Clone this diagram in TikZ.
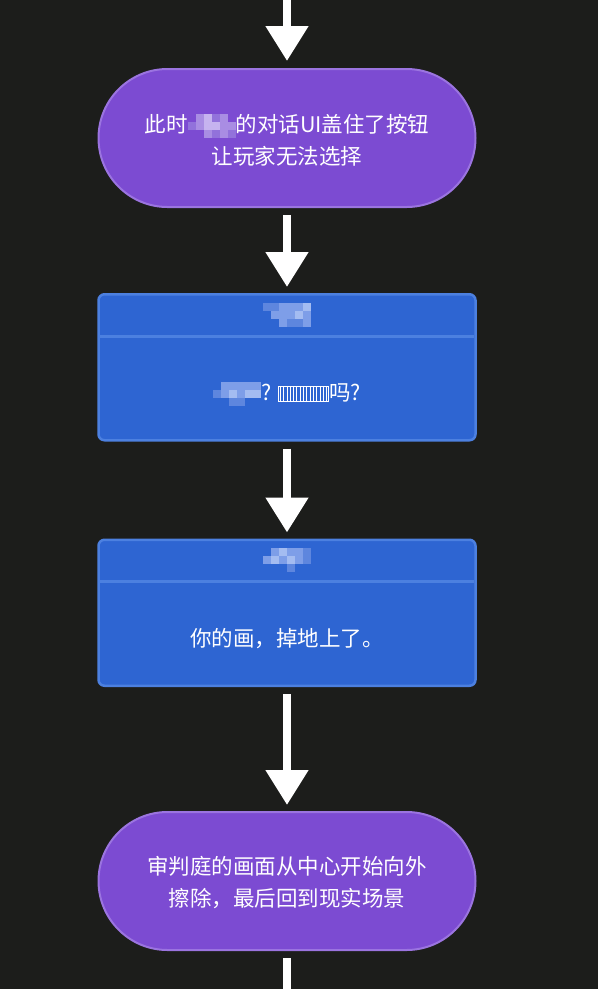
\documentclass[tikz,border=0pt]{standalone}
\usepackage{fontspec}
\setmainfont{Noto Sans CJK SC}
\usetikzlibrary{arrows.meta,positioning}
\definecolor{bgdark}{HTML}{1C1D1B}
\definecolor{pillfill}{HTML}{7C4BD2}
\definecolor{pilledge}{HTML}{9B74E0}
\definecolor{cardfill}{HTML}{2E65D2}
\definecolor{cardedge}{HTML}{4C80E0}
\definecolor{pA}{HTML}{C6B3EF}
\definecolor{pB}{HTML}{A98DE3}
\definecolor{pC}{HTML}{9272DB}
\definecolor{bA}{HTML}{A4BCF1}
\definecolor{bB}{HTML}{7E9EE8}
\definecolor{bC}{HTML}{5E86DE}
% blurred name blocks
\newcommand{\pxl}[1]{\textcolor{#1}{\rule{8pt}{8pt}}}
\newcommand{\mosaicpill}{\raisebox{-5pt}{\vbox{\offinterlineskip
  \hbox{\pxl{pillfill}\pxl{pB}\pxl{pA}\pxl{pC}\pxl{pB}\pxl{pillfill}}
  \hbox{\pxl{pC}\pxl{pB}\pxl{pA}\pxl{pA}\pxl{pB}\pxl{pB}}
  \hbox{\pxl{pillfill}\pxl{pillfill}\pxl{pB}\pxl{pC}\pxl{pB}\pxl{pC}}}}}
\newcommand{\mosaichead}{\vbox{\offinterlineskip
  \hbox{\pxl{bC}\pxl{bC}\pxl{bB}\pxl{bB}\pxl{bB}\pxl{bA}}
  \hbox{\pxl{cardfill}\pxl{bB}\pxl{bB}\pxl{bB}\pxl{bA}\pxl{bB}}
  \hbox{\pxl{cardfill}\pxl{cardfill}\pxl{bB}\pxl{bC}\pxl{bC}\pxl{bB}}}}
\newcommand{\mosaicname}{\raisebox{-6pt}{\vbox{\offinterlineskip
  \hbox{\pxl{cardfill}\pxl{bB}\pxl{bB}\pxl{bB}\pxl{bB}\pxl{bB}}
  \hbox{\pxl{bC}\pxl{bB}\pxl{bA}\pxl{bB}\pxl{bA}\pxl{bA}}
  \hbox{\pxl{cardfill}\pxl{cardfill}\pxl{bC}\pxl{bC}\pxl{cardfill}\pxl{cardfill}}}}}
\newcommand{\mosaicshort}{\vbox{\offinterlineskip
  \hbox{\pxl{cardfill}\pxl{bB}\pxl{bA}\pxl{bB}\pxl{bB}\pxl{bC}}
  \hbox{\pxl{bB}\pxl{bA}\pxl{bB}\pxl{bA}\pxl{bB}\pxl{bC}}
  \hbox{\pxl{cardfill}\pxl{cardfill}\pxl{cardfill}\pxl{bC}\pxl{cardfill}\pxl{cardfill}}}}
\newcommand{\tofu}{\raisebox{-1pt}{\setlength{\fboxsep}{0pt}\setlength{\fboxrule}{0.7pt}%
  \fbox{\hbox to 50pt{\xleaders\hbox to 3.3pt{\hss\vrule width 0.6pt height 15pt depth 0pt\hss}\hfil}}}}
\tikzset{
  pill/.style={draw=pilledge, fill=pillfill, line width=2pt, rounded corners=69pt, minimum width=377pt, minimum height=138pt, align=center, text=white, font=\fontsize{21.5}{32}\selectfont},
  pilltext/.style={align=center, text=white, font=\fontsize{21.5}{32}\selectfont},
  card/.style={draw=cardedge, fill=cardfill, line width=2.5pt, rounded corners=6pt, minimum width=377pt, minimum height=146pt},
  cardhead/.style={minimum width=377pt, minimum height=43pt, inner sep=0pt},
  cardtext/.style={text=white, font=\fontsize{21.5}{32}\selectfont},
  divider/.style={draw=cardedge, line width=3pt},
  flow/.style={-{Triangle[length=35pt, width=41pt]}, line width=8pt, draw=white}
}
\begin{document}
\begin{tikzpicture}[x=1pt, y=1pt]
  \fill[bgdark] (0,0) rectangle (598,-989);
  \useasboundingbox (0,0) rectangle (598,-989);
  \coordinate (top) at (287,0);
  \coordinate (bottom) at (287,-989);

  \node[pill] (cover) at (287,-138) {};
  \node[pilltext] (covertext) at ([yshift=-2pt]cover.center) {此时\mosaicpill 的对话UI盖住了按钮\\让玩家无法选择};
  \node[card, below=85pt of cover] (ask) {};
  \node[cardhead, anchor=north] (askhead) at (ask.north) {\mosaichead};
  \node[cardtext] (asktext) at ([yshift=-27pt]ask.center) {\mosaicname? \tofu 吗?};
  \node[card, below=97pt of ask] (drop) {};
  \node[cardhead, anchor=north] (drophead) at (drop.north) {\mosaicshort};
  \node[cardtext] (droptext) at ([yshift=-26pt]drop.center) {你的画，掉地上了。};
  \node[pill, below=124pt of drop] (wipe) {};
  \node[pilltext] (wipetext) at ([yshift=-2pt]wipe.center) {审判庭的画面从中心开始向外\\擦除，最后回到现实场景};

  \draw[divider] ([xshift=1.5pt]askhead.south west) -- ([xshift=-1.5pt]askhead.south east);
  \draw[divider] ([xshift=1.5pt]drophead.south west) -- ([xshift=-1.5pt]drophead.south east);

  \draw[flow, shorten >=7pt] (top) -- (cover);
  \draw[flow, shorten <=7pt, shorten >=6pt] (cover) -- (ask);
  \draw[flow, shorten <=7pt, shorten >=6pt] (ask) -- (drop);
  \draw[flow, shorten <=7pt, shorten >=6pt] (drop) -- (wipe);
  \draw[draw=white, line width=8pt, shorten <=7pt] (wipe) -- (bottom);
\end{tikzpicture}
\end{document}
